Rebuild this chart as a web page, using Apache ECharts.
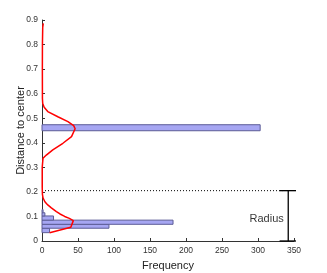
<!DOCTYPE html>
<html>
<head>
<meta charset="utf-8">
<script src="https://cdn.jsdelivr.net/npm/echarts@6/dist/echarts.min.js"></script>
<style>
html,body{margin:0;padding:0;background:#fff;}
#c{width:327px;height:273px;}
</style>
</head>
<body>
<div id="c"></div>
<script>
// Histogram bins: [lower edge, upper edge, frequency]
var binLow  = [0.034, 0.052, 0.068, 0.085, 0.102, 0.115, 0.449];
var binHigh = [0.052, 0.068, 0.085, 0.102, 0.115, 0.128, 0.4735];
var binFreq = [10.5, 93, 182, 16, 4, 1.5, 303];

// Density curve (frequency, distance)
var curveFreq = [10.6, 40, 43.5, 38, 31.5, 25, 20, 13, 8, 4, 1.5, 0.6, 0.3, 0.3, 1.4, 6, 15, 29, 41, 46, 44, 36, 22, 8, 3, 1, 0.6, 0.5, 0.6, 1, 1.8];
var curveDist = [0.034, 0.056, 0.083, 0.092, 0.1, 0.11, 0.12, 0.135, 0.147, 0.16, 0.175, 0.19, 0.22, 0.3, 0.337, 0.35, 0.371, 0.398, 0.425, 0.457, 0.47, 0.486, 0.506, 0.527, 0.545, 0.56, 0.58, 0.7, 0.8, 0.87, 0.886];

// Radius annotation
var radiusValue = 0.205;
var radiusX = 342;
var capLow = 330, capHigh = 353;
var dottedEnd = 334;

var xTicks = [0, 50, 100, 150, 200, 250, 300, 350];
var yTicks = [0, 0.1, 0.2, 0.3, 0.4, 0.5, 0.6, 0.7, 0.8, 0.9];

var bins = binLow.map(function(l, i){ return [l, binHigh[i], binFreq[i]]; });
var curve = curveFreq.map(function(f, i){ return [f, curveDist[i]]; });

var tickFont = "'Liberation Sans Narrow', 'Liberation Sans', Arial, sans-serif";
var chart = echarts.init(document.getElementById('c'), null, {renderer:'canvas'});
chart.setOption({
  animation: false,
  backgroundColor: '#fff',
  grid: {left: 42, top: 20, width: 252, height: 221, containLabel: false, outerBoundsMode: 'none'},
  xAxis: {
    type: 'value', min: xTicks[0], max: xTicks[xTicks.length-1], interval: 50,
    name: 'Frequency', nameLocation: 'middle', nameGap: 19, nameMoveOverlap: false,
    nameTextStyle: {fontSize: 11, color: '#222', fontFamily: 'Liberation Sans, Arial, sans-serif'},
    axisLine: {lineStyle: {color: '#333', width: 1}},
    axisTick: {inside: true, length: 3, lineStyle: {color: '#333'}},
    axisLabel: {fontSize: 8.5, color: '#333', margin: 5, fontFamily: tickFont},
    splitLine: {show: false}
  },
  yAxis: {
    type: 'value', min: yTicks[0], max: yTicks[yTicks.length-1], interval: 0.1,
    name: 'Distance to center', nameLocation: 'middle', nameGap: 16, nameMoveOverlap: false,
    nameTextStyle: {fontSize: 11, color: '#222', fontFamily: 'Liberation Sans, Arial, sans-serif'},
    axisLine: {show: true, lineStyle: {color: '#333', width: 1}},
    axisTick: {show: true, inside: true, length: 3, lineStyle: {color: '#333'}},
    axisLabel: {fontSize: 8.5, color: '#333', margin: 4, fontFamily: tickFont},
    splitLine: {show: false}
  },
  series: [
    {
      type: 'custom',
      data: bins,
      encode: {x: 2, y: [0, 1]},
      renderItem: function(params, api){
        var p0 = api.coord([0, api.value(0)]);
        var p1 = api.coord([api.value(2), api.value(1)]);
        return {
          type: 'rect',
          shape: {x: p0[0], y: p1[1], width: p1[0]-p0[0], height: p0[1]-p1[1]},
          style: {fill: '#a6a6f2', stroke: '#5c5c96', lineWidth: 1}
        };
      },
      z: 2
    },
    {
      type: 'line', data: curve, symbol: 'none', smooth: false,
      lineStyle: {color: '#ff0000', width: 1.5}, z: 3
    },
    {
      type: 'line', data: [[0, radiusValue], [dottedEnd, radiusValue]], symbol: 'none', clip: false,
      lineStyle: {color: '#000', width: 1, type: [1, 2]}, z: 1
    },
    {
      type: 'line', data: [[radiusX, radiusValue], [radiusX, 0]], symbol: 'none', clip: false,
      lineStyle: {color: '#000', width: 1.3}, z: 4
    },
    {
      type: 'line', data: [[capLow, radiusValue], [capHigh, radiusValue]], symbol: 'none', clip: false,
      lineStyle: {color: '#000', width: 1.3}, z: 4
    },
    {
      type: 'line', data: [[capLow, 0], [capHigh, 0]], symbol: 'none', clip: false,
      lineStyle: {color: '#000', width: 1.3}, z: 4
    },
    {
      type: 'scatter', data: [[radiusX - 2, 0.088]], symbolSize: 0, clip: false,
      label: {show: true, position: 'left', distance: 3, formatter: 'Radius',
        fontSize: 11, color: '#000', fontFamily: 'Liberation Sans, Arial, sans-serif'},
      z: 5
    }
  ]
});
</script>
</body>
</html>
